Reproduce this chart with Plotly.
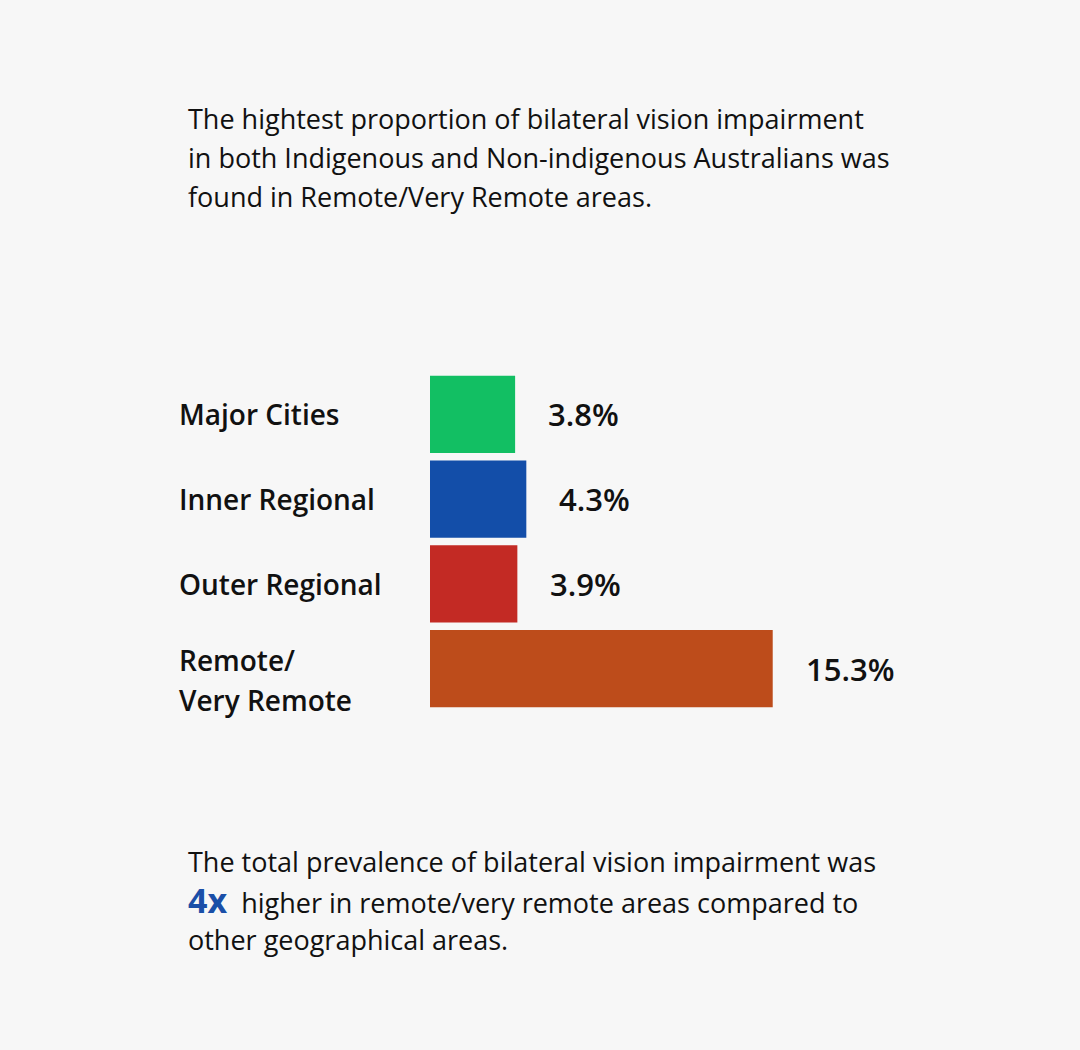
import plotly.graph_objects as go

categories = ["Major Cities", "Inner Regional", "Outer Regional", "Remote/<br>Very Remote"]
values = [3.8, 4.3, 3.9, 15.3]
value_labels = ["3.8%", "4.3%", "3.9%", "15.3%"]
colors = ["#12bf63", "#134ea9", "#c32a24", "#bd4c1b"]

heading_lines = [
    "The hightest proportion of bilateral vision impairment",
    "in both Indigenous and Non-indigenous Australians was",
    "found in Remote/Very Remote areas.",
]
footer_lines = [
    "The total prevalence of bilateral vision impairment was",
    "<span style='color:#1a4fa8;font-size:34px'><b>4x</b></span>  higher in remote/very remote areas compared to",
    "other geographical areas.",
]

W, H = 1080, 1050
L, R = 430, 150
T, B = 372, 339
plot_w = W - L - R
plot_h = H - T - B
px_per_unit = 22.4
xmax = plot_w / px_per_unit

FONT = "Open Sans"
BG = "#f7f7f7"
TXT = "#111111"

def px_to_paper_x(px):
    return (px - L) / plot_w

def py_to_paper_y(py):
    return (H - B - py) / plot_h

fig = go.Figure()
fig.add_trace(go.Bar(
    y=categories, x=values, orientation="h",
    marker=dict(color=colors, line=dict(width=0)),
    hoverinfo="skip",
))

annotations = []
# value labels
for c, v, lab in zip(categories, values, value_labels):
    annotations.append(dict(
        x=v, y=c, xref="x", yref="y", text=lab, showarrow=False,
        xanchor="left", yanchor="middle", xshift=31, yshift=0,
        font=dict(family=FONT, size=31, color=TXT, weight=600),
    ))
# category labels
for c in categories:
    parts = c.split("<br>")
    n = len(parts)
    for i, p in enumerate(parts):
        annotations.append(dict(
            x=px_to_paper_x(177), y=c, xref="paper", yref="y", text=p,
            showarrow=False, xanchor="left", yanchor="middle",
            yshift=(n - 1) / 2 * 40 - i * 40 - (n - 1) * 11,
            font=dict(family=FONT, size=28, color=TXT, weight=600),
        ))
# heading
for i, line in enumerate(heading_lines):
    annotations.append(dict(
        x=px_to_paper_x(186), y=py_to_paper_y(118 + 39 * i), xref="paper", yref="paper",
        text=line, showarrow=False, xanchor="left", yanchor="middle",
        font=dict(family=FONT, size=27, color=TXT),
    ))
for i, line in enumerate(footer_lines):
    annotations.append(dict(
        x=px_to_paper_x(186), y=py_to_paper_y(861 + 39 * i), xref="paper", yref="paper",
        text=line, showarrow=False, xanchor="left", yanchor="middle",
        font=dict(family=FONT, size=27, color=TXT),
    ))

fig.update_layout(
    width=W, height=H,
    margin=dict(l=L, r=R, t=T, b=B, pad=0),
    paper_bgcolor=BG, plot_bgcolor=BG,
    showlegend=False,
    bargap=0.09,
    xaxis=dict(range=[0, xmax], visible=False, fixedrange=True),
    yaxis=dict(autorange="reversed", visible=False, fixedrange=True),
    annotations=annotations,
)

fig.write_html("out.html", config={"displayModeBar": False})
